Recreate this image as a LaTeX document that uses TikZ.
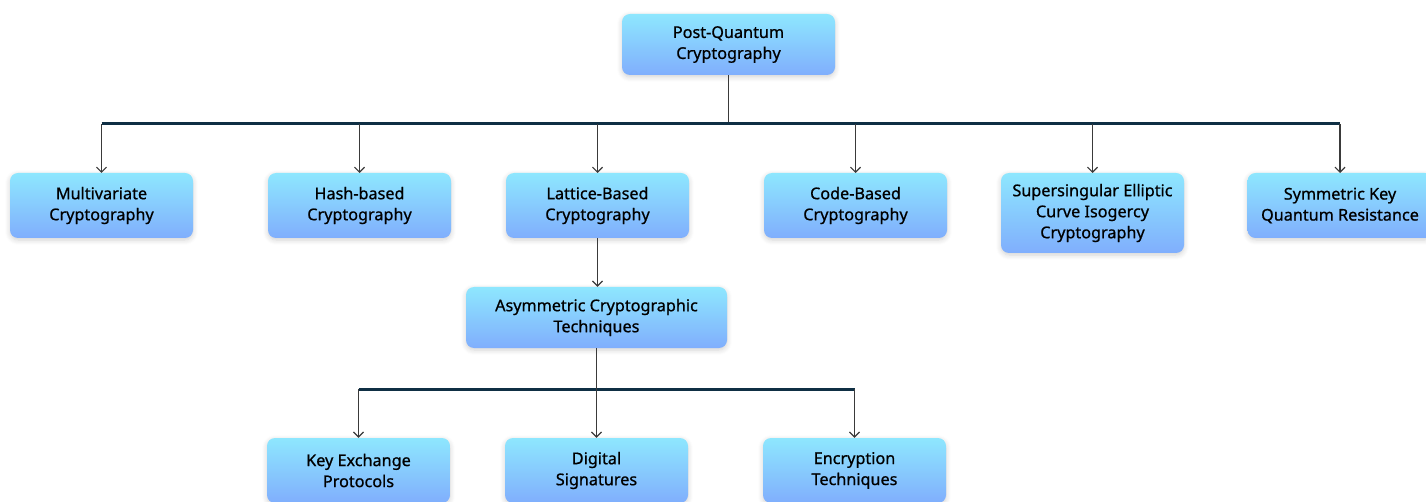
\documentclass[tikz,border=0pt]{standalone}
\usepackage{fontspec}
\setmainfont{Noto Sans}[FakeBold=0.8]
\usetikzlibrary{arrows.meta,shadows.blur}
\definecolor{boxtop}{HTML}{8EE7FE}
\definecolor{boxbot}{HTML}{80AEFD}
\definecolor{busline}{HTML}{0F2F44}
\definecolor{link}{HTML}{3A3A3A}
\tikzset{
  topic/.style={rectangle, rounded corners=8pt, minimum width=183pt, minimum height=65pt,
    top color=boxtop, bottom color=boxbot, draw=none, align=center,
    font=\fontsize{16.2}{21}\selectfont\bfseries, text=black,
    blur shadow={shadow xshift=0pt, shadow yshift=-2pt, shadow blur steps=6, shadow opacity=18, shadow blur radius=5pt}},
  bus/.style={line width=3pt, busline},
  feed/.style={line width=1.2pt, link},
  drop/.style={line width=1.2pt, link, -{Straight Barb[length=5pt,width=10pt,line width=1.2pt]}}
}
\begin{document}
\begin{tikzpicture}[x=1pt,y=-1pt]
\useasboundingbox (0,0) rectangle (1426,502);
\clip (0,0) rectangle (1426,502);

% root
\node[topic, minimum width=213pt, minimum height=61pt] (pqc) at (728.5,44.5) {Post-Quantum\\Cryptography};

% first level
\node[topic] (multi) at (101.5,205.5) {Multivariate\\Cryptography};
\node[topic] (hash) at (359.5,205.5) {Hash-based\\Cryptography};
\node[topic] (lattice) at (597.5,205.5) {Lattice-Based\\Cryptography};
\node[topic] (code) at (855.5,205.5) {Code-Based\\Cryptography};
\node[topic, minimum height=80pt] (sidh) at (1092.5,213) {Supersingular Elliptic\\Curve Isogercy\\Cryptography};
\node[topic, minimum width=185pt] (sym) at (1340,205.5) {Symmetric Key\\Quantum Resistance};

% lattice branch
\node[topic, minimum width=261pt, minimum height=61pt] (asym) at (596.5,317.5) {Asymmetric Cryptographic\\Techniques};
\node[topic] (kex) at (358.5,470.5) {Key Exchange\\Protocols};
\node[topic] (dsig) at (596.5,470.5) {Digital\\Signatures};
\node[topic] (enc) at (854.5,470.5) {Encryption\\Techniques};

% junction points
\coordinate (j1) at (728.5,124);
\coordinate (bl1) at (101.5,124);
\coordinate (br1) at (1340,124);
\coordinate (j2) at (596.5,389);
\coordinate (bl2) at (358.5,389);
\coordinate (br2) at (854.5,389);

% connectors from root
\draw[feed] (pqc.south) -- (j1);
\draw[bus] (bl1) -- (br1);
\foreach \n in {multi,hash,lattice,code,sidh,sym}
  \draw[drop] (\n.north |- j1) -- (\n.north |- 0,173);

% lattice branch connectors
\draw[drop] (lattice.south) -- (asym.north -| lattice.south);
\draw[bus] (bl2) -- (br2);
\draw[drop] (asym.south) -- (dsig.north);
\draw[drop] (bl2) -- (kex.north);
\draw[drop] (br2) -- (enc.north);
\end{tikzpicture}
\end{document}
